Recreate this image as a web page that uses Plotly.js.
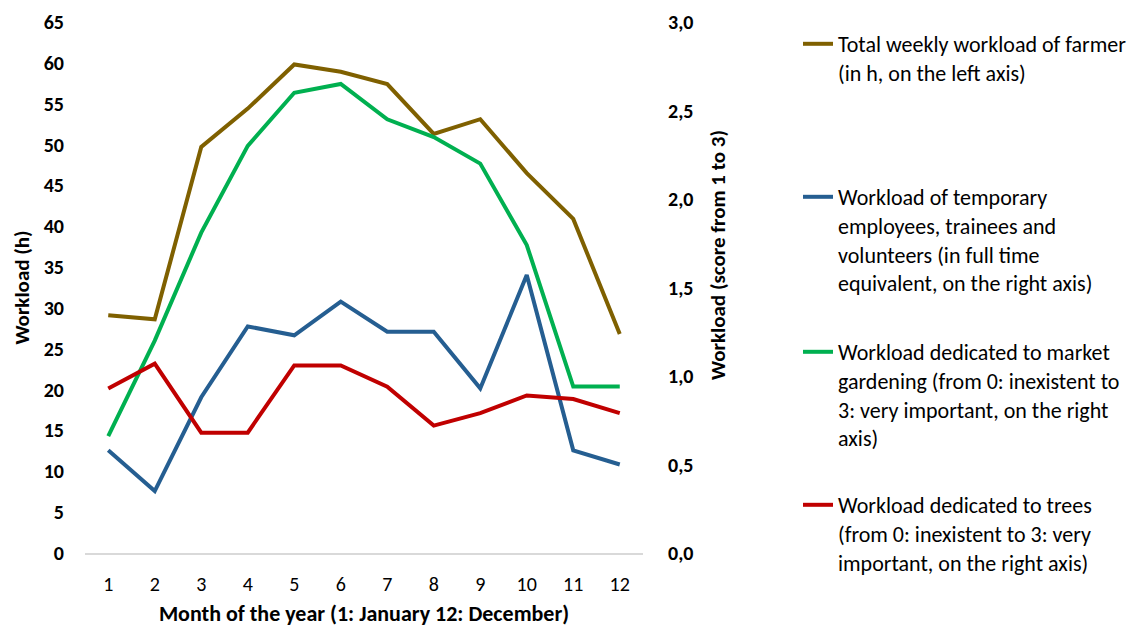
<!DOCTYPE html>
<html>
<head>
<meta charset="utf-8">
<script src="https://cdn.plot.ly/plotly-3.0.1.min.js"></script>
<style>
  body { margin: 0; background: #fff; }
  #chart { width: 1142px; height: 627px; }
</style>
</head>
<body>
<div id="chart"></div>
<script>
const months = [1, 2, 3, 4, 5, 6, 7, 8, 9, 10, 11, 12];

// weekly hours of the farmer (left axis)
const farmerHours = [29.1, 28.6, 49.7, 54.4, 59.8, 58.9, 57.4, 51.3, 53.1, 46.5, 40.9, 26.8];
// scores / FTE (right axis)
const temporaryStaff = [0.58, 0.35, 0.88, 1.28, 1.23, 1.42, 1.25, 1.25, 0.93, 1.57, 0.58, 0.50];
const marketGardening = [0.66, 1.20, 1.81, 2.30, 2.60, 2.65, 2.45, 2.35, 2.20, 1.74, 0.94, 0.94];
const trees = [0.93, 1.07, 0.68, 0.68, 1.06, 1.06, 0.94, 0.72, 0.79, 0.89, 0.87, 0.79];

const leftTicks = [0, 5, 10, 15, 20, 25, 30, 35, 40, 45, 50, 55, 60, 65];
const rightTicks = [0, 0.5, 1, 1.5, 2, 2.5, 3];

const names = [
    "Total weekly workload of farmer<br>(in h, on the left axis)",
    "Workload of temporary<br>employees, trainees and<br>volunteers (in full time<br>equivalent, on the right axis)",
    "Workload dedicated to market<br>gardening (from 0: inexistent to<br>3: very important, on the right<br>axis)",
    "Workload dedicated to trees<br>(from 0: inexistent to 3: very<br>important, on the right axis)"
];
const colors = ["#7F6000", "#255E91", "#00B050", "#C00000"];

const FONT = "Carlito, Calibri, Lato, sans-serif";

function trace(y, i, axis, legend) {
    return {
        x: months, y: y, name: names[i], yaxis: axis, legend: legend,
        mode: "lines", line: {color: colors[i], width: 4}, hoverinfo: "skip"
    };
}

const data = [
    trace(farmerHours, 0, "y", "legend"),
    trace(temporaryStaff, 1, "y2", "legend2"),
    trace(marketGardening, 2, "y2", "legend3"),
    trace(trees, 3, "y2", "legend4")
];

function legendAt(py) {
    return {
        xref: "container", yref: "container",
        x: 798 / 1142, y: 1 - py / 627, xanchor: "left", yanchor: "top",
        valign: "top", bgcolor: "rgba(0,0,0,0)", borderwidth: 0,
        font: {family: FONT, size: 22, color: "#000"}
    };
}

const layout = {
    width: 1142, height: 627,
    margin: {l: 85, r: 499, t: 22, b: 74},
    paper_bgcolor: "#fff", plot_bgcolor: "#fff",
    font: {family: FONT, color: "#000"},
    separators: ",.",
    showlegend: true,
    xaxis: {
        range: [0.5, 12.5], tickvals: months, showgrid: false, zeroline: false,
        showline: true, linecolor: "#D9D9D9", linewidth: 1.5,
        ticks: "", ticklabelstandoff: 12,
        tickfont: {family: FONT, size: 20},
        title: {text: "<b>Month of the year (1: January 12: December)</b>", font: {family: FONT, size: 22}, standoff: 12}
    },
    yaxis: {
        range: [0, 65], tickvals: leftTicks, showgrid: false, zeroline: false,
        ticks: "", ticklabelstandoff: 20,
        tickfont: {family: FONT, size: 20, weight: "bold"},
        title: {text: "<b>Workload (h)</b>", font: {family: FONT, size: 21}, standoff: 8}
    },
    yaxis2: {
        range: [0, 3], tickvals: rightTicks, tickformat: ".1f",
        overlaying: "y", side: "right", showgrid: false, zeroline: false,
        ticks: "", ticklabelstandoff: 24,
        tickfont: {family: FONT, size: 20, weight: "bold"}
    },
    annotations: [{
        text: "<b>Workload (score from 1 to 3)</b>", textangle: -90,
        xref: "paper", yref: "paper", x: (718 - 85) / 558, y: (553 - 255) / 531,
        xanchor: "center", yanchor: "middle", showarrow: false,
        font: {family: FONT, size: 21, color: "#000"}
    }],
    legend: legendAt(23),
    legend2: legendAt(176),
    legend3: legendAt(331),
    legend4: legendAt(484)
};

Plotly.newPlot("chart", data, layout, {displayModeBar: false, staticPlot: true});
</script>
</body>
</html>
